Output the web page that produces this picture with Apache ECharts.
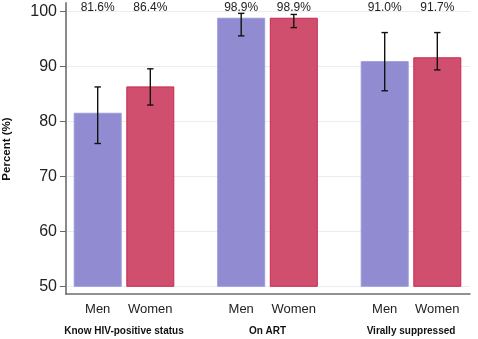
<!DOCTYPE html>
<html>
<head>
<meta charset="utf-8">
<script src="https://cdn.jsdelivr.net/npm/echarts@6/dist/echarts.min.js"></script>
<style>
  html, body { margin: 0; padding: 0; background: #fff; }
  #chart { width: 478px; height: 339px; }
</style>
</head>
<body>
<div id="chart"></div>
<script>
// Care cascade by sex: percent with 95% confidence intervals
const categories = ['Know HIV-positive status', 'On ART', 'Virally suppressed'];
const sexes = ['Men', 'Women'];
const menValues = [81.6, 98.9, 91.0];
const womenValues = [86.4, 98.9, 91.7];
const menLow = [76.0, 95.6, 85.6];
const menHigh = [86.3, 99.7, 96.2];
const womenLow = [83.0, 97.1, 89.4];
const womenHigh = [89.6, 99.5, 96.2];
const yTicks = [50, 60, 70, 80, 90, 100];

const FONT = '"Liberation Sans", Arial, sans-serif';
const BAR_W = 48;
const BAR_GAP = 0.096;
const MEN_COLOR = '#918cd2';
const WOMEN_COLOR = '#d14f6e';

// horizontal shift of each sex's bar from the category centre
function barShift(sexIndex) {
  const off = (BAR_W + BAR_W * BAR_GAP) / 2;
  return sexIndex === 0 ? -off : off;
}

const Y_MIN = yTicks[0];
const Y_MAX = yTicks[yTicks.length - 1];

function errorSeries(sexIndex, low, high) {
  return {
    type: 'custom',
    xAxisIndex: 0, yAxisIndex: 0,
    z: 5,
    data: categories.map((c, i) => [i, low[i], high[i]]),
    renderItem: function (params, api) {
      const i = api.value(0);
      const top = api.coord([i, api.value(2)]);
      const bot = api.coord([i, api.value(1)]);
      const x = top[0] + barShift(sexIndex);
      const cap = 3.2;
      const style = { stroke: '#111', lineWidth: 1.4 };
      return {
        type: 'group',
        children: [
          { type: 'line', shape: { x1: x, y1: top[1], x2: x, y2: bot[1] }, style: style },
          { type: 'line', shape: { x1: x - cap, y1: top[1], x2: x + cap, y2: top[1] }, style: style },
          { type: 'line', shape: { x1: x - cap, y1: bot[1], x2: x + cap, y2: bot[1] }, style: style }
        ]
      };
    }
  };
}

function valueLabelSeries(sexIndex, values) {
  return {
    type: 'custom',
    xAxisIndex: 0, yAxisIndex: 0,
    z: 6,
    clip: false,
    data: values.map((v, i) => [i, v]),
    renderItem: function (params, api) {
      const i = api.value(0);
      const p = api.coord([i, Y_MAX]);
      return {
        type: 'text',
        x: p[0] + barShift(sexIndex),
        y: p[1] - 4.5,
        style: {
          text: api.value(1).toFixed(1) + '%',
          fill: '#222',
          font: '12px ' + FONT,
          align: 'center',
          verticalAlign: 'middle'
        }
      };
    }
  };
}

const chart = echarts.init(document.getElementById('chart'), null, { renderer: 'canvas' });

chart.setOption({
  animation: false,
  backgroundColor: '#fff',
  textStyle: { fontFamily: FONT },
  grid: [
    // bars
    { left: 52.25, width: 430.5, top: 11.7, height: 274.6, outerBoundsMode: 'none', containLabel: false },
    // gridlines and y scale
    { left: 66, width: 404, top: 11.7, height: 274.6, outerBoundsMode: 'none', containLabel: false },
    // outer frame lines
    { left: 66, width: 404, top: 3, height: 291, outerBoundsMode: 'none', containLabel: false }
  ],
  xAxis: [
    {
      gridIndex: 0, type: 'category', data: categories,
      axisLine: { show: false }, axisTick: { show: false },
      axisLabel: {
        interval: 0, margin: 39.5, color: '#111', fontFamily: FONT,
        fontSize: 10, fontWeight: 'bold'
      }
    },
    { gridIndex: 1, type: 'value', show: false },
    {
      gridIndex: 2, type: 'value', min: 0, max: 1,
      axisLine: { show: true, lineStyle: { color: '#6e6e6e', width: 1.5 } },
      axisTick: { show: false }, axisLabel: { show: false }, splitLine: { show: false }
    }
  ],
  yAxis: [
    { gridIndex: 0, type: 'value', min: Y_MIN, max: Y_MAX, show: false },
    {
      gridIndex: 1, type: 'value', min: Y_MIN, max: Y_MAX, interval: 10,
      name: 'Percent (%)', nameLocation: 'middle', nameGap: 53,
      nameTextStyle: { color: '#111', fontSize: 11.5, fontWeight: 'bold', fontFamily: FONT },
      axisLine: { show: false },
      axisTick: { show: true, inside: false, length: 6, lineStyle: { color: '#666', width: 1 } },
      axisLabel: { color: '#222', fontSize: 16, margin: 9, fontFamily: FONT },
      splitLine: { show: true, lineStyle: { color: '#e4eef3', width: 1 } }
    },
    {
      gridIndex: 2, type: 'value', min: 0, max: 1,
      axisLine: { show: true, lineStyle: { color: '#8a8a8a', width: 2 } },
      axisTick: { show: false }, axisLabel: { show: false }, splitLine: { show: false }
    }
  ],
  series: [
    {
      name: sexes[0], type: 'bar', xAxisIndex: 0, yAxisIndex: 0,
      data: menValues, barWidth: BAR_W, barGap: (BAR_GAP * 100) + '%',
      itemStyle: { color: MEN_COLOR, borderColor: '#9d99da', borderWidth: 1 },
      label: {
        show: true, position: 'bottom', distance: 16,
        formatter: () => sexes[0], color: '#222', fontSize: 13, fontFamily: FONT
      }
    },
    {
      name: sexes[1], type: 'bar', xAxisIndex: 0, yAxisIndex: 0,
      data: womenValues, barWidth: BAR_W,
      itemStyle: { color: WOMEN_COLOR, borderColor: '#c8284f', borderWidth: 1 },
      label: {
        show: true, position: 'bottom', distance: 16,
        formatter: () => sexes[1], color: '#222', fontSize: 13, fontFamily: FONT
      }
    },
    errorSeries(0, menLow, menHigh),
    errorSeries(1, womenLow, womenHigh),
    valueLabelSeries(0, menValues),
    valueLabelSeries(1, womenValues)
  ]
});
</script>
</body>
</html>
